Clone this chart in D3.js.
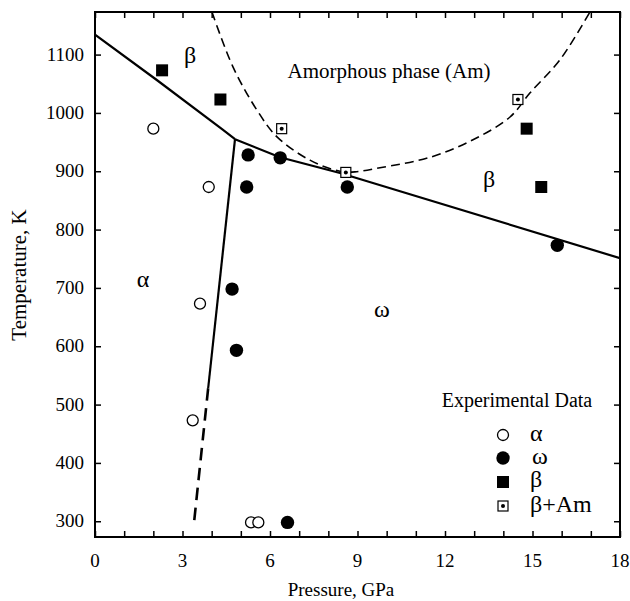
<!DOCTYPE html>
<html>
<head>
<meta charset="utf-8">
<script src="https://cdn.jsdelivr.net/npm/d3@7"></script>
<style>
  body { margin: 0; background: #fff; }
  svg text { font-family: "Liberation Serif", "DejaVu Serif", serif; fill: #000; }
</style>
</head>
<body>
<div id="chart"></div>
<script>
// experimental points [pressure GPa, temperature K]
const alphaPts = [[2.0, 973], [3.9, 873], [3.6, 673], [3.35, 473], [5.35, 298], [5.6, 298]];
const omegaPts = [[5.25, 928], [5.2, 873], [6.35, 923], [4.7, 698], [4.85, 593], [6.6, 298], [8.65, 873], [15.85, 773]];
const betaPts = [[2.3, 1073], [4.3, 1023], [14.8, 973], [15.3, 873]];
const betaAmPts = [[6.4, 973], [8.6, 898], [14.5, 1023]];

// phase boundaries
const alphaBetaLine = [[0, 1134], [2.13, 1056], [4.39, 971], [4.8, 955]];
const betaOmegaLine = [[4.8, 955], [6.34, 924], [8.4, 897], [18, 751]];
const alphaOmegaSolid = [[4.8, 955], [3.88, 528]];
const alphaOmegaDashed = [[3.88, 528], [3.4, 300]];
const amorphousLine = [[4.01, 1173], [4.73, 1079], [5.55, 1005], [6.24, 959], [7.37, 919], [8.4, 900],
  [8.91, 899], [9.77, 906], [11.49, 924], [12.96, 954], [14.23, 993], [14.91, 1034], [15.94, 1091], [16.97, 1173]];

const xTicks = [0, 3, 6, 9, 12, 15, 18];
const yTicks = [300, 400, 500, 600, 700, 800, 900, 1000, 1100];
const legendNames = ["α", "ω", "β", "β+Am"];

const width = 630, height = 601;
const margin = {top: 12, right: 10, bottom: 64, left: 95};

const svg = d3.select("#chart").append("svg")
    .attr("width", width)
    .attr("height", height);

const x = d3.scaleLinear().domain([0, 18]).range([margin.left, width - margin.right]);
const y = d3.scaleLinear().domain([273, 1173]).range([height - margin.bottom, margin.top]);

svg.append("defs").append("clipPath").attr("id", "clip")
  .append("rect")
    .attr("x", x(0)).attr("y", y(1173))
    .attr("width", x(18) - x(0)).attr("height", y(273) - y(1173));

const plot = svg.append("g").attr("clip-path", "url(#clip)");

const line = d3.line().x(d => x(d[0])).y(d => y(d[1]));

// boundaries
[alphaBetaLine, betaOmegaLine, alphaOmegaSolid].forEach(pts => {
  plot.append("path").datum(pts)
      .attr("d", line).attr("fill", "none").attr("stroke", "#000").attr("stroke-width", 2.2);
});
plot.append("path").datum(alphaOmegaDashed)
    .attr("d", line).attr("fill", "none").attr("stroke", "#000").attr("stroke-width", 2.6)
    .attr("stroke-dasharray", "12.5,7.5");
plot.append("path").datum(amorphousLine)
    .attr("d", d3.line().x(d => x(d[0])).y(d => y(d[1])).curve(d3.curveCatmullRom))
    .attr("fill", "none")
    .attr("stroke", "#000").attr("stroke-width", 1.6).attr("stroke-dasharray", "9,5");

// markers
function openCircle(g, cx, cy) {
  g.append("circle").attr("cx", cx).attr("cy", cy).attr("r", 5.5)
      .attr("fill", "#fff").attr("stroke", "#000").attr("stroke-width", 1.3);
}
function filledCircle(g, cx, cy) {
  g.append("circle").attr("cx", cx).attr("cy", cy).attr("r", 6.7).attr("fill", "#000");
}
function filledSquare(g, cx, cy) {
  g.append("rect").attr("x", cx - 6).attr("y", cy - 6).attr("width", 12).attr("height", 12).attr("fill", "#000");
}
function betaAm(g, cx, cy) {
  g.append("rect").attr("x", cx - 5).attr("y", cy - 5).attr("width", 10).attr("height", 10)
      .attr("fill", "#fff").attr("stroke", "#000").attr("stroke-width", 1.2);
  g.append("circle").attr("cx", cx).attr("cy", cy).attr("r", 2).attr("fill", "#000");
}

const markers = svg.append("g");
alphaPts.forEach(d => openCircle(markers, x(d[0]), y(d[1])));
omegaPts.forEach(d => filledCircle(markers, x(d[0]), y(d[1])));
betaPts.forEach(d => filledSquare(markers, x(d[0]), y(d[1])));
betaAmPts.forEach(d => betaAm(markers, x(d[0]), y(d[1])));

// frame
svg.append("rect")
    .attr("x", x(0)).attr("y", y(1173))
    .attr("width", x(18) - x(0)).attr("height", y(273) - y(1173))
    .attr("fill", "none").attr("stroke", "#000").attr("stroke-width", 2);

// inward ticks on all four sides
const xMinor = d3.range(0, 19, 1);
function ticksOnly(g) {
  g.select(".domain").remove();
  g.selectAll("line").attr("stroke-width", 1.5);
}
svg.append("g").attr("transform", `translate(0,${y(273)})`)
    .call(d3.axisBottom(x).tickValues(xMinor).tickSize(-6).tickFormat("")).call(ticksOnly);
svg.append("g").attr("transform", `translate(0,${y(1173)})`)
    .call(d3.axisTop(x).tickValues(xMinor).tickSize(-6).tickFormat("")).call(ticksOnly);
svg.append("g").attr("transform", `translate(${x(0)},0)`)
    .call(d3.axisLeft(y).tickValues(yTicks).tickSize(-6).tickFormat("")).call(ticksOnly);
svg.append("g").attr("transform", `translate(${x(18)},0)`)
    .call(d3.axisRight(y).tickValues(yTicks).tickSize(-6).tickFormat("")).call(ticksOnly);

// tick labels
svg.append("g").selectAll("text").data(xTicks).enter().append("text")
    .attr("x", d => x(d)).attr("y", 567)
    .attr("text-anchor", "middle").style("font-size", "19px")
    .text(d => d);
svg.append("g").selectAll("text").data(yTicks).enter().append("text")
    .attr("x", 84).attr("y", d => y(d) + 6)
    .attr("text-anchor", "end").style("font-size", "19px")
    .text(d => d);

// axis titles
svg.append("text")
    .attr("x", 341).attr("y", 596)
    .attr("text-anchor", "middle").style("font-size", "19px")
    .text("Pressure, GPa");
svg.append("text")
    .attr("transform", "translate(26,275) rotate(-90)")
    .attr("text-anchor", "middle").style("font-size", "21px")
    .text("Temperature, K");

// phase labels
const labels = svg.append("g").attr("text-anchor", "middle");
labels.append("text").attr("x", 190).attr("y", 63).style("font-size", "24px").text("β");
labels.append("text").attr("x", 489).attr("y", 187).style("font-size", "24px").text("β");
labels.append("text").attr("x", 143).attr("y", 287).style("font-size", "24px").text("α");
labels.append("text").attr("x", 382).attr("y", 317).style("font-size", "24px").text("ω");
labels.append("text").attr("x", 389).attr("y", 78).style("font-size", "21px")
    .text("Amorphous phase (Am)");

// legend
const legend = svg.append("g");
legend.append("text").attr("x", 517).attr("y", 407)
    .attr("text-anchor", "middle").style("font-size", "20px")
    .text("Experimental Data");
const lx = 503, ly = [435, 458, 482, 506];
openCircle(legend, lx, ly[0]);
filledCircle(legend, lx, ly[1]);
filledSquare(legend, lx, ly[2]);
betaAm(legend, lx, ly[3]);
legend.selectAll(".ln").data(legendNames).enter().append("text")
    .attr("x", (d, i) => i === 1 ? 532 : 530)
    .attr("y", (d, i) => [441, 464, 487, 512][i])
    .style("font-size", "24px")
    .text(d => d);
</script>
</body>
</html>
